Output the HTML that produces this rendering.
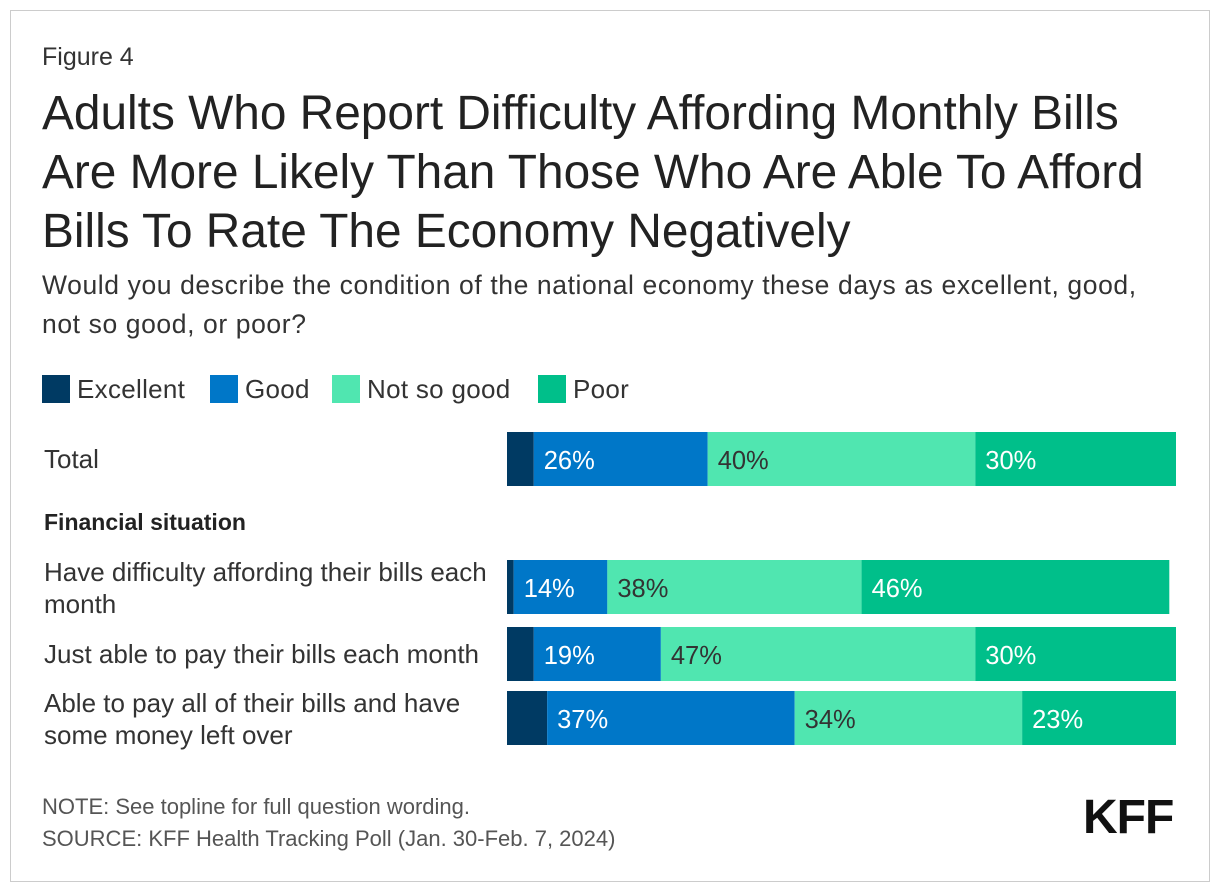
<!DOCTYPE html>
<html><head><meta charset="utf-8"><style>
body{margin:0;background:#fff;font-family:"Liberation Sans",Arial,sans-serif;color:#333;}
#frame{position:absolute;left:10px;top:10px;width:1198px;height:870px;border:1px solid #ccc;}
.t{position:absolute;white-space:nowrap;}
</style></head><body>
<div id="frame"></div>
<div class="t" style="left:42px;top:43px;font-size:25px;">Figure 4</div>
<div class="t" style="left:42px;top:84px;font-size:47.8px;line-height:59px;color:#222;">Adults Who Report Difficulty Affording Monthly Bills<br>Are More Likely Than Those Who Are Able To Afford<br>Bills To Rate The Economy Negatively</div>
<div class="t" style="left:42px;top:266px;font-size:26.5px;letter-spacing:0.6px;line-height:39px;">Would you describe the condition of the national economy these days as excellent, good,<br>not so good, or poor?</div>
<svg id="chart" width="1220" height="892" style="position:absolute;left:0;top:0"></svg>
<div class="t" style="left:42px;top:791px;font-size:22px;line-height:32px;color:#555;">NOTE: See topline for full question wording.<br>SOURCE: KFF Health Tracking Poll (Jan. 30-Feb. 7, 2024)</div>
<div class="t" style="left:1083px;top:790px;font-size:48px;font-weight:bold;color:#111;letter-spacing:-1px;">KFF</div>
<script>
const categories=["Total","Have difficulty affording their bills each month","Just able to pay their bills each month","Able to pay all of their bills and have some money left over"];
const seriesNames=["Excellent","Good","Not so good","Poor"];
const excellent=[4,1,4,6];
const good=[26,14,19,37];
const notSoGood=[40,38,47,34];
const poor=[30,46,30,23];
const colors=["#003a63","#0077c8","#50e6b0","#00bf8a"];
const textColors=["#fff","#fff","#333","#fff"];
const rowTop=[432,560,627,691];
const labelLines=[["Total"],["Have difficulty affording their bills each","month"],["Just able to pay their bills each month"],["Able to pay all of their bills and have","some money left over"]];
const svg=document.getElementById('chart');
const NS="http://www.w3.org/2000/svg";
const x0=507,pxPer=6.69,barH=54;
const xs=v=>v*pxPer;
function mk(tag,attrs){const e=document.createElementNS(NS,tag);for(const k in attrs)e.setAttribute(k,attrs[k]);svg.appendChild(e);return e;}
const legX=[42,210,332,538];
seriesNames.forEach((n,i)=>{
  const r=mk('rect',{x:legX[i],y:375,width:28,height:28,fill:colors[i]});
  
  
  const t=mk('text',{x:legX[i]+35,y:398,'font-size':26,'letter-spacing':0.3,fill:'#333'});t.textContent=n;
  
  
});
const sec=mk('text',{x:44,y:530,'font-size':23,'font-weight':'bold',fill:'#222'});sec.textContent="Financial situation";


const data=[excellent,good,notSoGood,poor];
categories.forEach((c,r)=>{
  const y=rowTop[r];
  const lines=labelLines[r];
  lines.forEach((ln,k)=>{
    const ty=lines.length===1? y+36 : y+21+k*32;
    const t=mk('text',{x:44,y:ty,'font-size':26,fill:'#333'});t.textContent=ln;
    
    
  });
  let x=x0;
  data.forEach((s,i)=>{
    const w=xs(s[r]);
    const b=mk('rect',{x:x,y:y,width:w,height:barH,fill:colors[i]});
    
    
    if(s[r]>=10){
      const t=mk('text',{x:x+10,y:y+37,'font-size':25.5,fill:textColors[i]});t.textContent=s[r]+'%';
      
      
    }
    x+=w;
  });
});
</script>
</body></html>
